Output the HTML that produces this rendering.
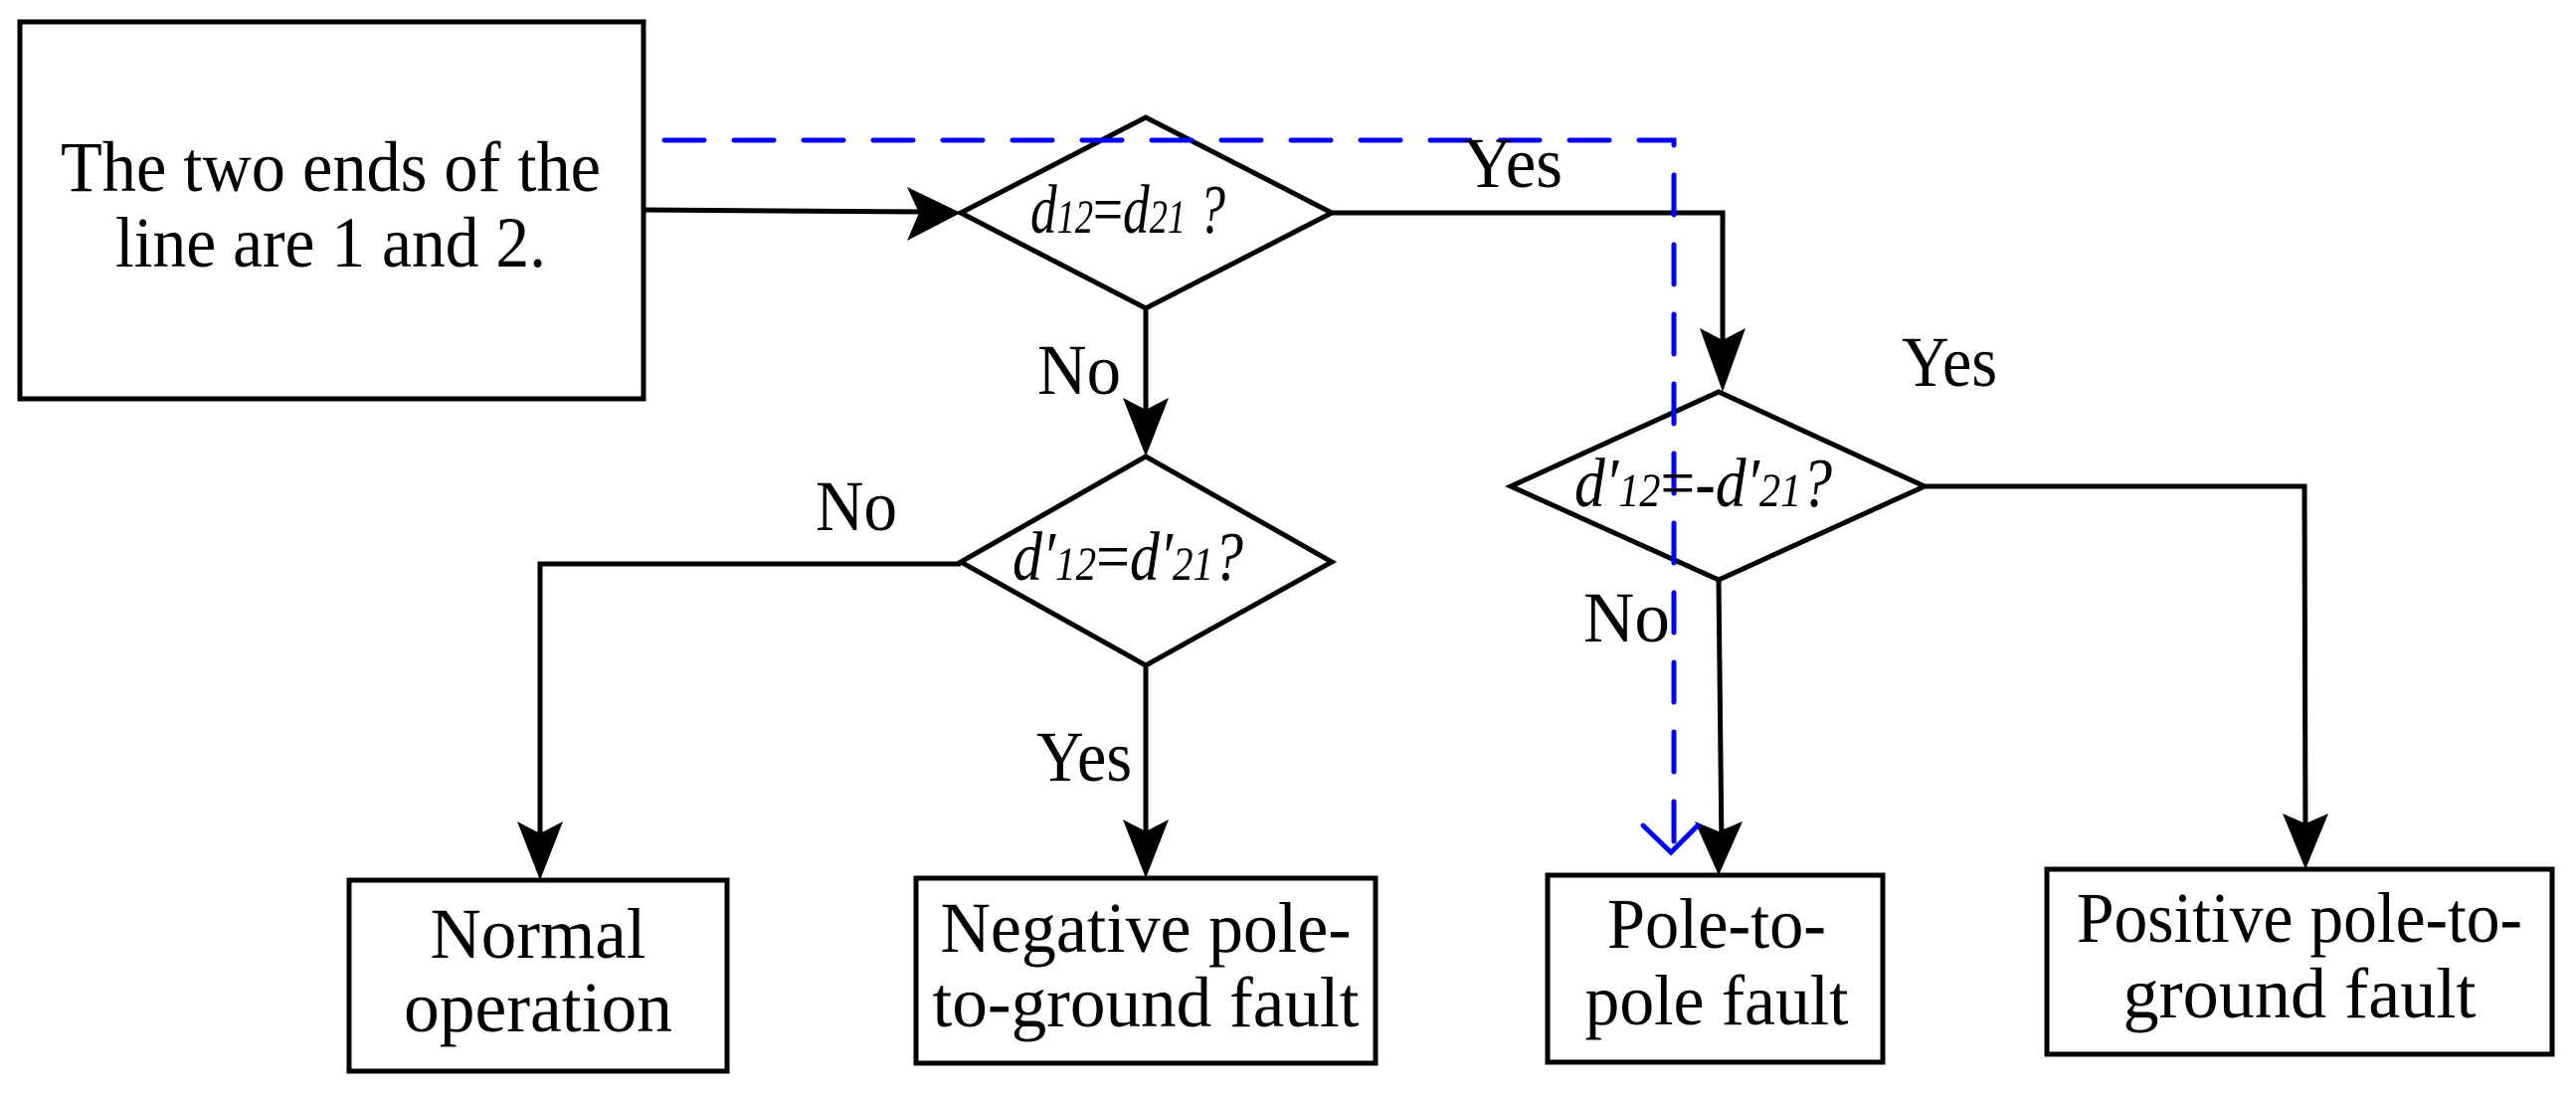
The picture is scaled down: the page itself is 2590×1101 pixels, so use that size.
<!DOCTYPE html>
<html><head><meta charset="utf-8"><style>
html,body{margin:0;padding:0;background:#fff;}
svg{display:block;}
text{font-family:"Liberation Serif",serif;fill:#000;}
</style></head><body>
<svg width="2590" height="1101" viewBox="0 0 2590 1101" xmlns="http://www.w3.org/2000/svg">
<g fill="none" stroke="#000" stroke-width="5">
<rect x="20" y="22" width="627" height="379"/>
<polygon points="966,214 1152,118 1339,214 1152,310"/>
<polygon points="966,565 1152,459 1339,565 1152,669"/>
<polygon points="1519,489 1728,394 1935,489 1728,583"/>
<rect x="351" y="885" width="380" height="192"/>
<rect x="921" y="883" width="462" height="186"/>
<rect x="1556" y="880" width="337" height="188"/>
<rect x="2058" y="874" width="508" height="186"/>
<polyline points="647,211 930,213"/>
<polyline points="1339,214 1732,214 1732,370"/>
<polyline points="1152,310 1152,435"/>
<polyline points="966,567 543,567 543,860"/>
<polyline points="1152,669 1152,855"/>
<polyline points="1728,583 1731,855"/>
<polyline points="1935,489 2317,489 2318,850"/>
</g>
<g fill="#000">
<polygon points="966,214 912,188 924,214 912,242"/>
<polygon points="1732,394 1709,330 1732,342 1755,330"/>
<polygon points="1152,459 1129,400 1152,412 1175,400"/>
<polygon points="543,885 520,826 543,838 566,826"/>
<polygon points="1152,883 1129,824 1152,836 1175,824"/>
<polygon points="1728,880 1704,826 1728,836 1752,826"/>
<polygon points="2318,874 2295,818 2318,828 2341,818"/>
</g>
<g fill="none" stroke="#0000ff" stroke-width="5" stroke-linecap="round">
<polyline points="668,141 1683,141 1683,855" stroke-dasharray="40,30"/>
<polyline points="1652,830 1680,857 1707,830"/>
</g>
<g font-size="72">
<text x="61" y="192" textLength="543" lengthAdjust="spacingAndGlyphs">The two ends of the</text>
<text x="116" y="268" textLength="433" lengthAdjust="spacingAndGlyphs">line are 1 and 2.</text>
<text x="1471" y="188" textLength="100" lengthAdjust="spacingAndGlyphs">Yes</text>
<text x="1912" y="388" textLength="96" lengthAdjust="spacingAndGlyphs">Yes</text>
<text x="1043" y="396" textLength="84" lengthAdjust="spacingAndGlyphs">No</text>
<text x="820" y="533" textLength="82" lengthAdjust="spacingAndGlyphs">No</text>
<text x="1592" y="645" textLength="87" lengthAdjust="spacingAndGlyphs">No</text>
<text x="1042" y="785" textLength="96" lengthAdjust="spacingAndGlyphs">Yes</text>
<text x="541" y="963" text-anchor="middle" textLength="217" lengthAdjust="spacingAndGlyphs">Normal</text>
<text x="541" y="1037" text-anchor="middle" textLength="270" lengthAdjust="spacingAndGlyphs">operation</text>
<text x="1152" y="957" text-anchor="middle" textLength="413" lengthAdjust="spacingAndGlyphs">Negative pole-</text>
<text x="1152" y="1032" text-anchor="middle" textLength="429" lengthAdjust="spacingAndGlyphs">to-ground fault</text>
<text x="1726" y="953" text-anchor="middle" textLength="220" lengthAdjust="spacingAndGlyphs">Pole-to-</text>
<text x="1726" y="1030" text-anchor="middle" textLength="265" lengthAdjust="spacingAndGlyphs">pole fault</text>
<text x="2312" y="947" text-anchor="middle" textLength="448" lengthAdjust="spacingAndGlyphs">Positive pole-to-</text>
<text x="2312" y="1023" text-anchor="middle" textLength="355" lengthAdjust="spacingAndGlyphs">ground fault</text>
</g>
<g font-size="70" font-style="italic">
<text x="1036" y="234" textLength="196" lengthAdjust="spacingAndGlyphs">d<tspan font-size="48">12</tspan><tspan font-style="normal">=</tspan>d<tspan font-size="48">21</tspan> ?</text>
<text x="1018" y="583" textLength="232" lengthAdjust="spacingAndGlyphs">d′<tspan font-size="48">12</tspan><tspan font-style="normal">=</tspan>d′<tspan font-size="48">21</tspan>?</text>
<text x="1583" y="509" textLength="259" lengthAdjust="spacingAndGlyphs">d′<tspan font-size="48">12</tspan><tspan font-style="normal">=-</tspan>d′<tspan font-size="48">21</tspan>?</text>
</g>
</svg>
</body></html>
